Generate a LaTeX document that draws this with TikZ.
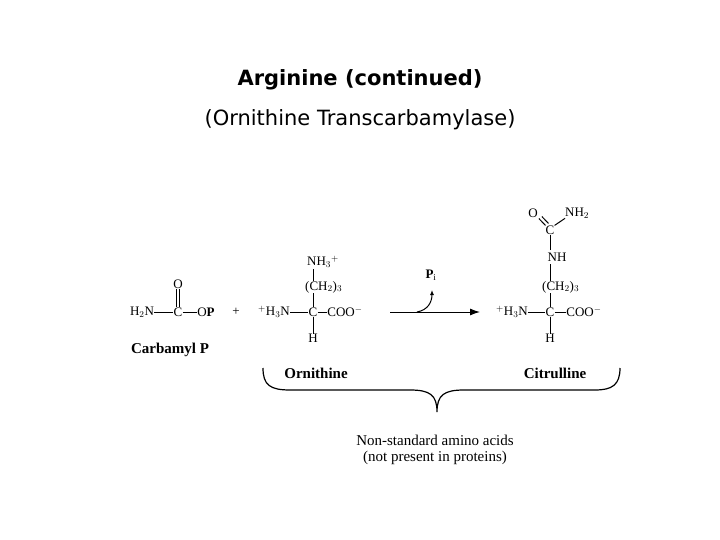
\documentclass[tikz,border=0pt]{standalone}
\usepackage{fontspec}
\usetikzlibrary{arrows.meta}
\setmainfont{Liberation Serif}
\newfontfamily\titlefont{DejaVu Sans}
\begin{document}
\begin{tikzpicture}[x=1pt,y=-1pt,
  ch/.style={inner sep=0pt,font=\fontsize{13}{13}\selectfont},
  lab/.style={inner sep=0pt,font=\fontsize{15}{15}\selectfont\bfseries},
  bond/.style={line width=1pt}]
\useasboundingbox (0,0) rectangle (720,540);
\node[font=\titlefont\fontsize{21}{24}\selectfont\bfseries] (t1) at (360,80) {Arginine (continued)};
\node[font=\titlefont\fontsize{21}{24}\selectfont] (t2) at (360,120) {(Ornithine Transcarbamylase)};
% carbamyl P
\node[ch] (a1) at (142,312) {H$_2$N};
\node[ch] (a2) at (178,312) {C};
\node[ch] (a3) at (206,312) {O\textbf{P}};
\node[ch] (a4) at (178,284) {O};
\draw[bond] (a1.east) -- (a2.west); \draw[bond] (a2.east) -- (a3.west);
\draw[bond] ([xshift=-1.5]a4.south) -- ([xshift=-1.5]a2.north);
\draw[bond] ([xshift=1.5]a4.south) -- ([xshift=1.5]a2.north);
\node[ch] (plus) at (236,312) {+};
\node[lab] (cp) at (170,350) {Carbamyl P};
% ornithine
\node[ch] (o1) at (274,312) {$^+$H$_3$N};
\node[ch] (o2) at (313,312) {C};
\node[ch] (o3) at (345,312) {COO$^-$};
\node[ch] (o4) at (313,338) {H};
\node[ch,anchor=west] (o5) at (305,287) {(CH$_2$)$_3$};
\node[ch,anchor=west] (o6) at (307,262) {NH$_3$$^+$};
\coordinate (o5b) at (313,293); \coordinate (o5t) at (313,281);
\draw[bond] (o1.east) -- (o2.west); \draw[bond] (o2.east) -- (o3.west);
\draw[bond] (o2.south) -- (o4.north);
\draw[bond] (o2.north) -- (o5b);
\draw[bond] (o5t) -- (313,269);
\node[lab] (orn) at (316,373) {Ornithine};
% arrow
\coordinate (ar1) at (390,312); \coordinate (ar2) at (480,312);
\draw[line width=1pt,-{Latex[length=10pt,width=7pt]}] (ar1) -- (ar2);
\node[ch] (pi) at (431,275) {\textbf{P}$_{\mathrm{i}}$};
\coordinate (cv1) at (417,312);
\draw[line width=1pt,-{Latex[length=5pt,width=4pt]}] (cv1) .. controls (428,310) and (432,302) .. (432,290);
% citrulline
\node[ch] (c1) at (512,312) {$^+$H$_3$N};
\node[ch] (c2) at (550,312) {C};
\node[ch] (c3) at (584,312) {COO$^-$};
\node[ch] (c4) at (550,338) {H};
\node[ch,anchor=west] (c5) at (542,287) {(CH$_2$)$_3$};
\node[ch] (c6) at (557,257) {NH};
\node[ch] (c7) at (550,230) {C};
\node[ch] (c8) at (533,213) {O};
\node[ch,anchor=west] (c9) at (565,213) {NH$_2$};
\coordinate (c5b) at (550,293); \coordinate (c5t) at (550,281);
\draw[bond] (c1.east) -- (c2.west); \draw[bond] (c2.east) -- (c3.west);
\draw[bond] (c2.south) -- (c4.north);
\draw[bond] (c2.north) -- (c5b);
\draw[bond] (c5t) -- (550,264);
\draw[bond] (550,250) -- (c7.south);
\draw[bond] ([shift={(1,1)}]c8.south east) -- (c7.north west);
\draw[bond] ([shift={(4,-1)}]c8.south east) -- ([shift={(3,-2)}]c7.north west);
\draw[bond] (c7.north east) -- (c9.south west);
\node[lab] (cit) at (555,373) {Citrulline};
% brace
\coordinate (b1) at (263,368); \coordinate (b2) at (620,368); \coordinate (bm) at (437,412);
\draw[line width=1.2pt] (b1) .. controls (263,385) and (270,390) .. (290,390) -- (410,390)
  .. controls (430,390) and (437,395) .. (bm) .. controls (437,395) and (444,390) .. (464,390)
  -- (595,390) .. controls (612,390) and (620,385) .. (b2);
\node[inner sep=0pt,font=\fontsize{15}{15}\selectfont] (n1) at (435,440) {Non-standard amino acids};
\node[inner sep=0pt,font=\fontsize{15}{15}\selectfont] (n2) at (435,458) {(not present in proteins)};
\end{tikzpicture}
\end{document}
